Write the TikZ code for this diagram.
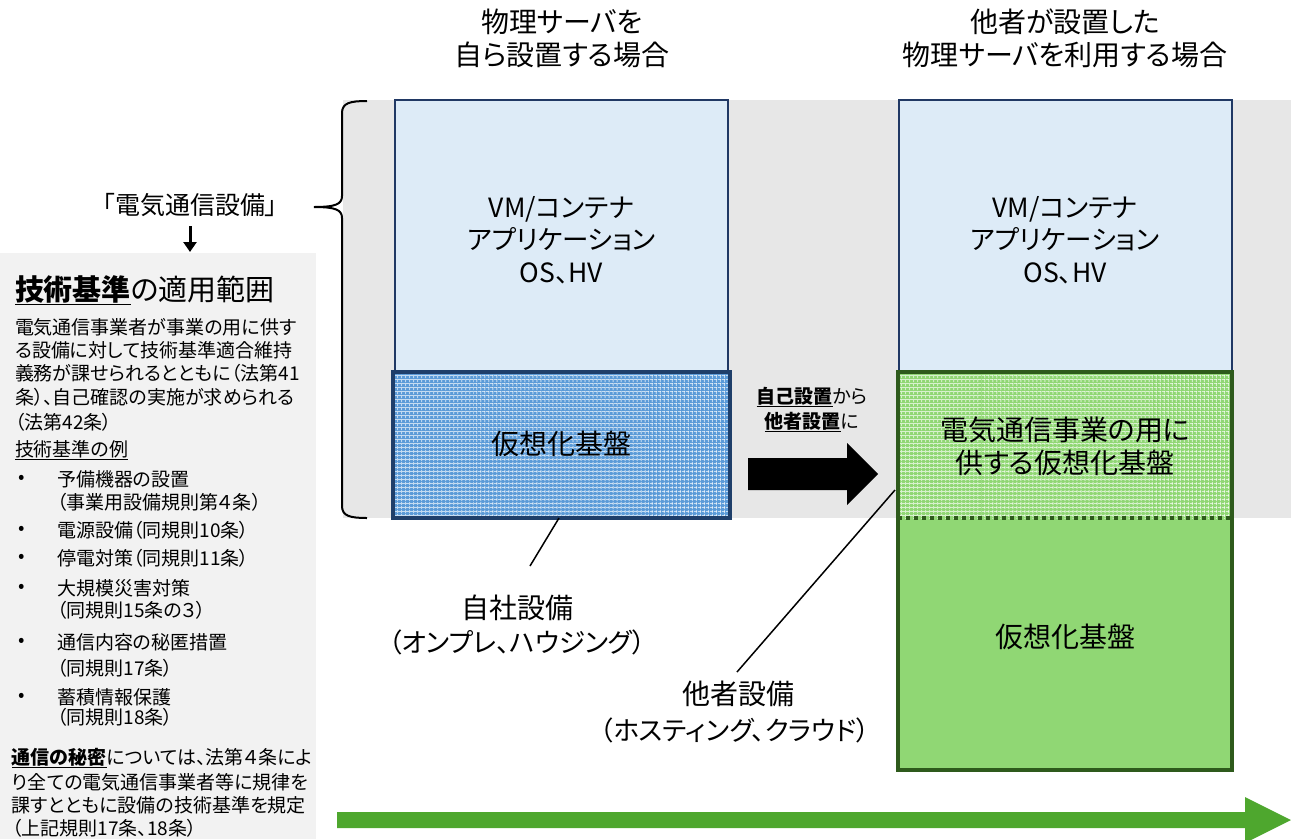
\documentclass[tikz,border=0pt]{standalone}
\usepackage{fontspec}
\setmainfont{Noto Sans CJK JP}[RawFeature=+palt]
\usetikzlibrary{patterns.meta,arrows.meta}
\definecolor{bandgray}{HTML}{E7E7E7}
\definecolor{panelgray}{HTML}{F2F2F2}
\definecolor{lightblue}{HTML}{DDEBF7}
\definecolor{navy}{HTML}{203864}
\definecolor{navyb}{HTML}{1F3F6A}
\definecolor{midblue}{HTML}{5B9BD8}
\definecolor{lgreen}{HTML}{90D774}
\definecolor{dgreen}{HTML}{2E5A1C}
\definecolor{arrowgreen}{HTML}{4EA72E}
\newcommand\myfs[1]{\fontsize{#1pt}{#1pt}\selectfont}
\begin{document}
\begin{tikzpicture}[x=1pt,y=-1pt,
  every node/.style={inner sep=0pt,outer sep=0pt,text=black},
  vmbox/.style={draw=navy,line width=2pt,fill=lightblue,minimum width=333pt,minimum height=272pt},
  hatchfill/.style={preaction={fill=#1},
     preaction={pattern={Lines[distance=4pt,line width=0.7pt]},pattern color=white},
     pattern={Lines[distance=4pt,angle=90,line width=0.7pt]},pattern color=white},
  bigtxt/.style={font=\myfs{28},align=center},
  kanatxt/.style={font=\myfs{26.5},align=center},
  threeline/.style={font=\fontsize{26.5pt}{32.5pt}\selectfont,align=center},
  twoline/.style={font=\fontsize{28pt}{33pt}\selectfont,align=center},
  paraline/.style={anchor=west,font=\myfs{19}},
  listitem/.style={anchor=west,font=\myfs{19}},
  leader/.style={draw=black,line width=1.5pt},
]
\useasboundingbox (0,0) rectangle (1291,839);
% backgrounds
\fill[bandgray] (343,100) rectangle (1291,518);
\fill[panelgray] (0,253) rectangle (316,839);

% headers
\node[bigtxt] (hL1) at (562,22) {物理サーバを};
\node[bigtxt] (hL2) at (562,55) {自ら設置する場合};
\node[bigtxt] (hR1) at (1065,22) {他者が設置した};
\node[bigtxt] (hR2) at (1065,55) {物理サーバを利用する場合};

% left column
\node[vmbox] (vmL) at (561.5,236) {};
\node[threeline] (vmLt) at (561.5,240) {VM/コンテナ\\アプリケーション\\OS、HV};
\node[draw=navyb,line width=4pt,hatchfill=midblue,minimum width=337pt,minimum height=146pt] (hvL) at (561.5,445) {};
\node[bigtxt] (hvLt) at (561.5,444) {仮想化基盤};

% right column
\node[vmbox] (vmR) at (1065,236) {};
\node[threeline] (vmRt) at (1065,240) {VM/コンテナ\\アプリケーション\\OS、HV};
\node[fill=lgreen,minimum width=334pt,minimum height=398pt] (gr) at (1065,571) {};
\path[hatchfill=lgreen] (898,372) rectangle (1232,518);
\draw[dgreen,line width=4pt,dash pattern=on 4pt off 4pt] (898,518) -- (1232,518);
\draw[dgreen,line width=4pt] (gr.south west) rectangle (gr.north east);
\node[twoline] (grt1) at (1065,446) {電気通信事業の用に\\供する仮想化基盤};
\node[bigtxt] (grt2) at (1065,637) {仮想化基盤};

% middle arrow
\fill[black] (748,458) -- (847,458) -- (847,443) -- (878,474) -- (847,505) -- (847,490) -- (748,490) -- cycle;
\node[font=\myfs{19}] (mv1) at (812,397) {\textbf{\underline{自己設置}}から};
\node[font=\myfs{19}] (mv2) at (812,422) {\textbf{\underline{他者設置}}に};

% leaders
\coordinate (a1) at (559,518);
\coordinate (a2) at (530,566);
\draw[leader] (a1) -- (a2);
\node[bigtxt] (own1) at (517,608) {自社設備};
\node[kanatxt] (own2) at (517,642) {（オンプレ、ハウジング）};
\coordinate (a3) at (895,490);
\coordinate (a4) at (737,672);
\draw[leader] (a3) -- (a4);
\node[bigtxt] (oth1) at (738,694) {他者設備};
\node[kanatxt] (oth2) at (735,730) {（ホスティング、クラウド）};

% brace
\draw[line width=2pt] (367,101) .. controls (350,101) and (342,103) .. (342,113) -- (342,196)
  .. controls (342,204) and (336,207) .. (314,207)
  .. controls (336,207) and (342,210) .. (342,218) -- (342,506)
  .. controls (342,516) and (350,518) .. (367,518);
\node[font=\myfs{25}] (den) at (190,205) {「電気通信設備」};
\coordinate (dtop) at (190,226);
\coordinate (dtip) at (190,252);
\draw[line width=3pt,-{Triangle[width=13pt,length=10pt]}] (dtop) -- (dtip);

% left panel
\node[anchor=west,font=\myfs{29}] (ttl) at (15,290) {\textbf{\underline{技術基準}}の適用範囲};
\node[paraline] (p1) at (15,327) {電気通信事業者が事業の用に供す};
\node[paraline] (p2) at (15,350) {る設備に対して技術基準適合維持};
\node[paraline] (p3) at (15,373) {義務が課せられるとともに（法第41};
\node[paraline] (p4) at (15,397) {条）、自己確認の実施が求められる};
\node[paraline] (p5) at (15,422) {（法第42条）};
\node[listitem] (ex) at (15,450) {\underline{技術基準の例}};
\foreach \yy/\nm in {479/b1,530/b2,558/b3,588/b4,642/b5,697/b6}
  \node[listitem] (\nm) at (18,\yy) {•};
\node[listitem] (i1) at (57,479) {予備機器の設置};
\node[listitem] (i1b) at (57,502) {（事業用設備規則第４条）};
\node[listitem] (i2) at (57,530) {電源設備（同規則10条）};
\node[listitem] (i3) at (57,558) {停電対策（同規則11条）};
\node[listitem] (i4) at (57,588) {大規模災害対策};
\node[listitem] (i4b) at (57,610) {（同規則15条の３）};
\node[listitem] (i5) at (57,642) {通信内容の秘匿措置};
\node[listitem] (i5b) at (57,668) {（同規則17条）};
\node[listitem] (i6) at (57,697) {蓄積情報保護};
\node[listitem] (i6b) at (57,717) {（同規則18条）};
\node[paraline] (s1) at (12,758) {\textbf{\underline{通信の秘密}}については、法第４条によ};
\node[paraline] (s2) at (12,782) {り全ての電気通信事業者等に規律を};
\node[paraline] (s3) at (12,805) {課すとともに設備の技術基準を規定};
\node[paraline] (s4) at (12,828) {（上記規則17条、18条）};

% bottom arrow
\fill[arrowgreen] (337,812) -- (1245,812) -- (1245,797) -- (1291,820) -- (1245,843) -- (1245,828) -- (337,828) -- cycle;
\end{tikzpicture}
\end{document}
